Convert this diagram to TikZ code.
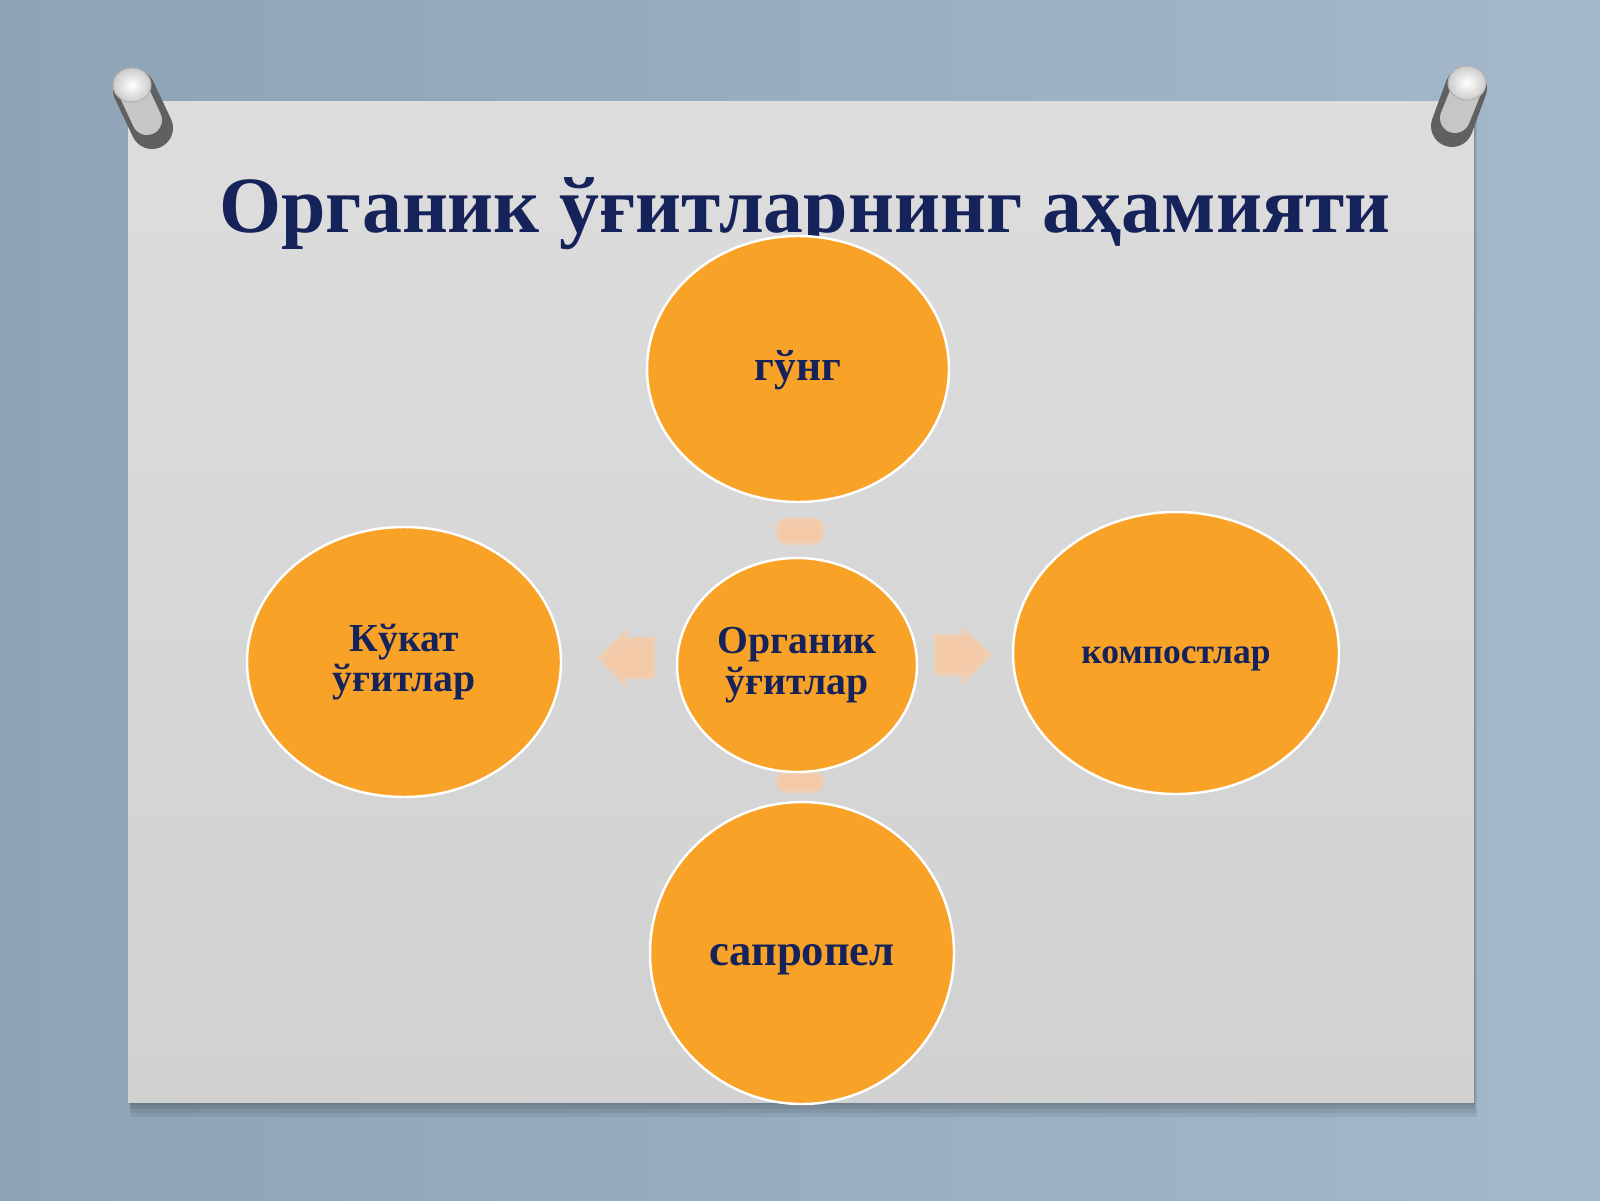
\documentclass[tikz,border=0pt]{standalone}
\usepackage{fontspec}
\setmainfont{Liberation Serif}
\usetikzlibrary{shapes.geometric, shapes.arrows, positioning, calc}
\definecolor{wandL}{HTML}{8EA4B6}
\definecolor{wandR}{HTML}{A3B8CA}
\definecolor{tafelO}{HTML}{DDDDDD}
\definecolor{tafelU}{HTML}{D1D1D1}
\definecolor{orange}{HTML}{F9A228}
\definecolor{navy}{HTML}{15235A}
\definecolor{pfirsich}{HTML}{F9C7A0}

\tikzset{
  blob/.style={ellipse, fill=orange, draw=white, line width=0.7pt, inner sep=0pt,
               text=navy, font=\bfseries, align=center},
  pfeil/.style={single arrow, fill=pfirsich, draw=pfirsich!70!tafelO, line width=1.2pt, opacity=0.85,
                inner xsep=0pt, inner ysep=0.17cm, single arrow head extend=0.06cm,
                minimum width=0.50cm, minimum height=0.53cm},
  balken/.style={rectangle, rounded corners=0.08cm, fill=pfirsich, draw=pfirsich!70!tafelO,
                 line width=1.2pt, opacity=0.85, minimum width=0.44cm},
  kopf/.style={ellipse, inner sep=0pt, minimum width=0.38cm, minimum height=0.34cm,
               inner color=white, outer color=gray!40, draw=gray!60, line width=0.3pt}
}
\newcommand{\tief}[2]{\raisebox{-#1}[0pt][0pt]{#2}}

\begin{document}
\begin{tikzpicture}[>=latex, inner sep=0pt]
	\useasboundingbox (0,0) rectangle (16,12);

	% Hintergrund
	\fill[left color=wandL, right color=wandR] (0,0) rectangle (16,12);

	% Schatten und Tafel
	\foreach \s in {0.03,0.07,0.11,0.15}
		\fill[black, opacity=0.07] (1.28+0.2*\s,0.98-\s) rectangle (14.74+0.2*\s,10.98-0.3*\s);
	\fill[top color=tafelO, bottom color=tafelU] (1.28,0.98) rectangle (14.74,10.98);

	% Reissnaegel
	\coordinate (p1_fuss) at (1.52,10.72);
	\coordinate (p2_fuss) at (14.52,10.74);
	\draw[line width=0.42cm, line cap=round, gray!75!black] (1.34,11.1) -- (p1_fuss);
	\draw[line width=0.30cm, line cap=round, gray!45] (1.32,11.12) -- (1.47,10.80);
	\draw[line width=0.42cm, line cap=round, gray!75!black] (14.66,11.12) -- (p2_fuss);
	\draw[line width=0.30cm, line cap=round, gray!45] (14.68,11.14) -- (14.55,10.82);
	\node[kopf](p1) at (1.32,11.15) {};
	\node[kopf](p2) at (14.67,11.17) {};

	% Titel
	\node[anchor=base, text=navy, font=\fontsize{22.7}{27}\selectfont\bfseries](titel) at (8.05,9.67)
		{Органик ўғитларнинг аҳамияти};

	% Pfeile
	\node[pfeil, shape border rotate=180](pf_links) at (6.36,5.42) {};
	\node[pfeil](pf_rechts) at (9.53,5.45) {};
	\node[balken, minimum height=0.23cm](pf_oben) at (8.00,6.69) {};
	\node[balken, minimum height=0.18cm](pf_unten) at (8.00,4.18) {};

	% Kreise
	\node[blob, minimum width=3.02cm, minimum height=2.66cm, font=\fontsize{12.4}{13}\selectfont\bfseries](gung) at (7.98,8.31) {\tief{0.11cm}{гўнг}};
	\node[blob, minimum width=2.40cm, minimum height=2.14cm, font=\fontsize{11.3}{11.8}\selectfont\bfseries](mitte) at (7.97,5.35) {Органик\\ўғитлар};
	\node[blob, minimum width=3.14cm, minimum height=2.70cm, font=\fontsize{11.3}{11.4}\selectfont\bfseries](kukat) at (4.04,5.38) {Кўкат\\ўғитлар};
	\node[blob, minimum width=3.26cm, minimum height=2.82cm, font=\fontsize{10.1}{12}\selectfont\bfseries](kompost) at (11.76,5.47) {\tief{0.10cm}{компостлар}};
	\node[blob, minimum width=3.04cm, minimum height=3.02cm, font=\fontsize{12.7}{14}\selectfont\bfseries](sapropel) at (8.02,2.47) {\tief{0.12cm}{сапропел}};

\end{tikzpicture}
\end{document}
